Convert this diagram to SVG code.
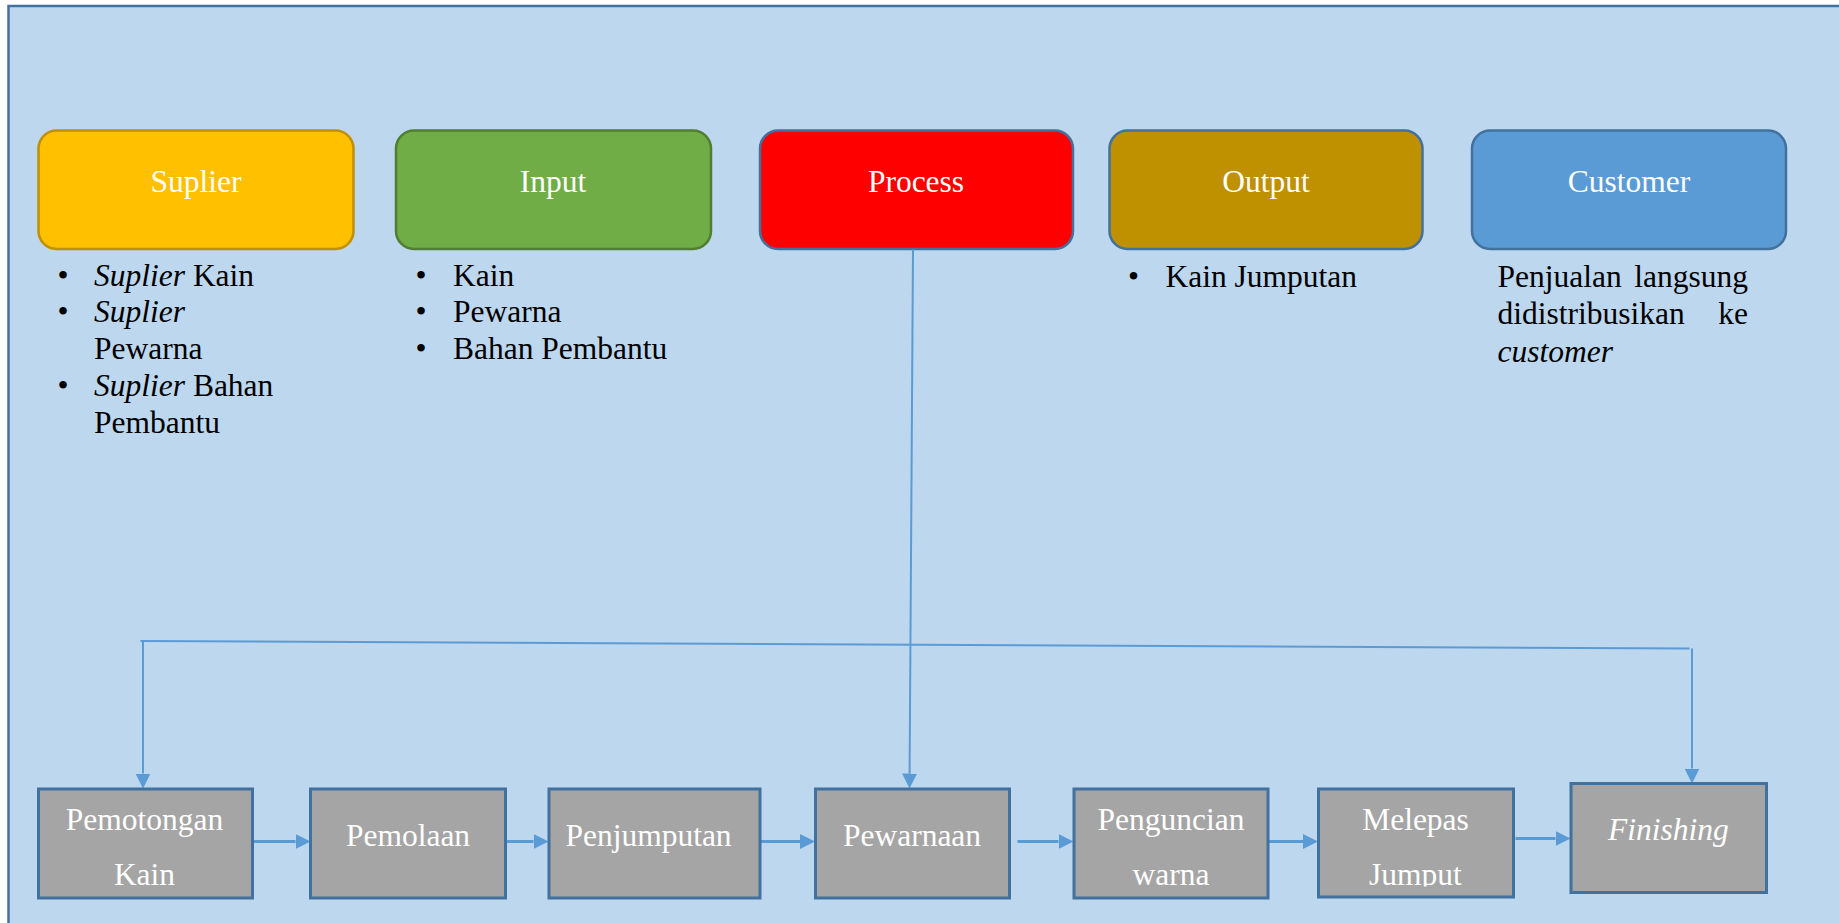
<svg xmlns="http://www.w3.org/2000/svg" width="1839" height="923" viewBox="0 0 1839 923">
  <style>
    .t { font-family: "Liberation Serif", "Times New Roman", serif; font-size: 31.5px; }
    .w { fill: #ffffff; }
    .k { fill: #000000; }
    .c { text-anchor: middle; }
    .e { text-anchor: end; }
    .i { font-style: italic; }
    .top { stroke-width: 2.5; }
    .step { fill: #A5A5A5; stroke: #41719C; stroke-width: 3; }
    .thin { fill: none; stroke: #5B9BD5; stroke-width: 2; }
    .flow { fill: none; stroke: #5B9BD5; stroke-width: 3; }
  </style>
  <defs>
    <marker id="arrow" viewBox="0 0 15 15" refX="0" refY="7.5" markerWidth="15" markerHeight="15" markerUnits="userSpaceOnUse" orient="auto">
      <path d="M0,0 L15,7.5 L0,15 z" fill="#5B9BD5"/>
    </marker>
    <clipPath id="stepClip">
      <rect x="0" y="770" width="1839" height="116.5"/>
    </clipPath>
  </defs>

  <!-- page background and frame -->
  <rect x="0" y="0" width="1839" height="923" fill="#ffffff"/>
  <rect x="8.5" y="6" width="1840" height="930" fill="#BDD7EE"/>
  <path d="M8.5,930 L8.5,6 L1845,6" fill="none" stroke="#41719C" stroke-width="2.5"/>

  <!-- SIPOC header boxes -->
  <g id="suplier">
    <rect class="top" x="38.5" y="130.5" width="315" height="118.5" rx="18" fill="#FFC000" stroke="#BF9000"/>
    <text class="t w c" x="196" y="192">Suplier</text>
    <g class="t k">
      <text x="57.5" y="286">•</text>
      <text x="94" y="286"><tspan class="i">Suplier</tspan> Kain</text>
      <text x="57.5" y="322">•</text>
      <text x="94" y="322" class="i">Suplier</text>
      <text x="94" y="359">Pewarna</text>
      <text x="57.5" y="396">•</text>
      <text x="94" y="396"><tspan class="i">Suplier</tspan> Bahan</text>
      <text x="94" y="433">Pembantu</text>
    </g>
  </g>

  <g id="input">
    <rect class="top" x="396" y="130.5" width="315" height="118.5" rx="18" fill="#70AD47" stroke="#507E32"/>
    <text class="t w c" x="553" y="192">Input</text>
    <g class="t k">
      <text x="415.5" y="286">•</text>
      <text x="453" y="286">Kain</text>
      <text x="415.5" y="322">•</text>
      <text x="453" y="322">Pewarna</text>
      <text x="415.5" y="359">•</text>
      <text x="453" y="359">Bahan Pembantu</text>
    </g>
  </g>

  <g id="process">
    <rect class="top" x="760" y="130.5" width="313" height="118.5" rx="18" fill="#FF0000" stroke="#41719C"/>
    <text class="t w c" x="916" y="192">Process</text>
  </g>

  <g id="output">
    <rect class="top" x="1109.5" y="130.5" width="313" height="118.5" rx="18" fill="#BF9000" stroke="#41719C"/>
    <text class="t w c" x="1266" y="192">Output</text>
    <g class="t k">
      <text x="1128" y="287">•</text>
      <text x="1165.5" y="287">Kain Jumputan</text>
    </g>
  </g>

  <g id="customer">
    <rect class="top" x="1472" y="130.5" width="314" height="118.5" rx="18" fill="#5B9BD5" stroke="#41719C"/>
    <text class="t w c" x="1629" y="192">Customer</text>
    <g class="t k">
      <text x="1497.5" y="287">Penjualan</text>
      <text class="e" x="1748" y="287">langsung</text>
      <text x="1497.5" y="324">didistribusikan</text>
      <text class="e" x="1748" y="324">ke</text>
      <text class="i" x="1497.5" y="362">customer</text>
    </g>
  </g>

  <!-- connectors -->
  <g id="connectors">
    <line class="thin" x1="140.5" y1="641" x2="1689.5" y2="648.5"/>
    <line class="thin" x1="143" y1="641" x2="143" y2="773.5" marker-end="url(#arrow)"/>
    <line class="thin" x1="913" y1="249.5" x2="909.6" y2="773.5" marker-end="url(#arrow)"/>
    <line class="thin" x1="1692" y1="648.5" x2="1692" y2="768.5" marker-end="url(#arrow)"/>
    <line class="flow" x1="254" y1="841.5" x2="295.5" y2="841.5" marker-end="url(#arrow)"/>
    <line class="flow" x1="505.5" y1="841.5" x2="533.5" y2="841.5" marker-end="url(#arrow)"/>
    <line class="flow" x1="757" y1="841.5" x2="800" y2="841.5" marker-end="url(#arrow)"/>
    <line class="flow" x1="1017.5" y1="841.5" x2="1058.5" y2="841.5" marker-end="url(#arrow)"/>
    <line class="flow" x1="1261.5" y1="841.5" x2="1303" y2="841.5" marker-end="url(#arrow)"/>
    <line class="flow" x1="1515.5" y1="838.5" x2="1555.5" y2="838.5" marker-end="url(#arrow)"/>
  </g>

  <!-- process steps -->
  <g id="pemotongan">
    <rect class="step" x="38.5" y="789" width="214" height="109"/>
    <text class="t w c" x="144.5" y="830">Pemotongan</text>
    <text class="t w c" x="144.5" y="885" clip-path="url(#stepClip)">Kain</text>
  </g>
  <g id="pemolaan">
    <rect class="step" x="310.5" y="789" width="195" height="109"/>
    <text class="t w c" x="408" y="846">Pemolaan</text>
  </g>
  <g id="penjumputan">
    <rect class="step" x="549" y="789" width="211" height="109"/>
    <text class="t w c" x="648.5" y="846">Penjumputan</text>
  </g>
  <g id="pewarnaan">
    <rect class="step" x="815.5" y="789" width="194" height="109"/>
    <text class="t w c" x="912" y="846">Pewarnaan</text>
  </g>
  <g id="penguncian">
    <rect class="step" x="1074" y="789" width="194" height="109"/>
    <text class="t w c" x="1171" y="830">Penguncian</text>
    <text class="t w c" x="1171" y="885" clip-path="url(#stepClip)">warna</text>
  </g>
  <g id="melepas">
    <rect class="step" x="1318.5" y="789" width="195" height="108"/>
    <text class="t w c" x="1415.5" y="830">Melepas</text>
    <text class="t w c" x="1415.5" y="885" clip-path="url(#stepClip)">Jumput</text>
  </g>
  <g id="finishing">
    <rect class="step" x="1571" y="783.5" width="195.5" height="109"/>
    <text class="t w c i" x="1668.5" y="840">Finishing</text>
  </g>
</svg>
